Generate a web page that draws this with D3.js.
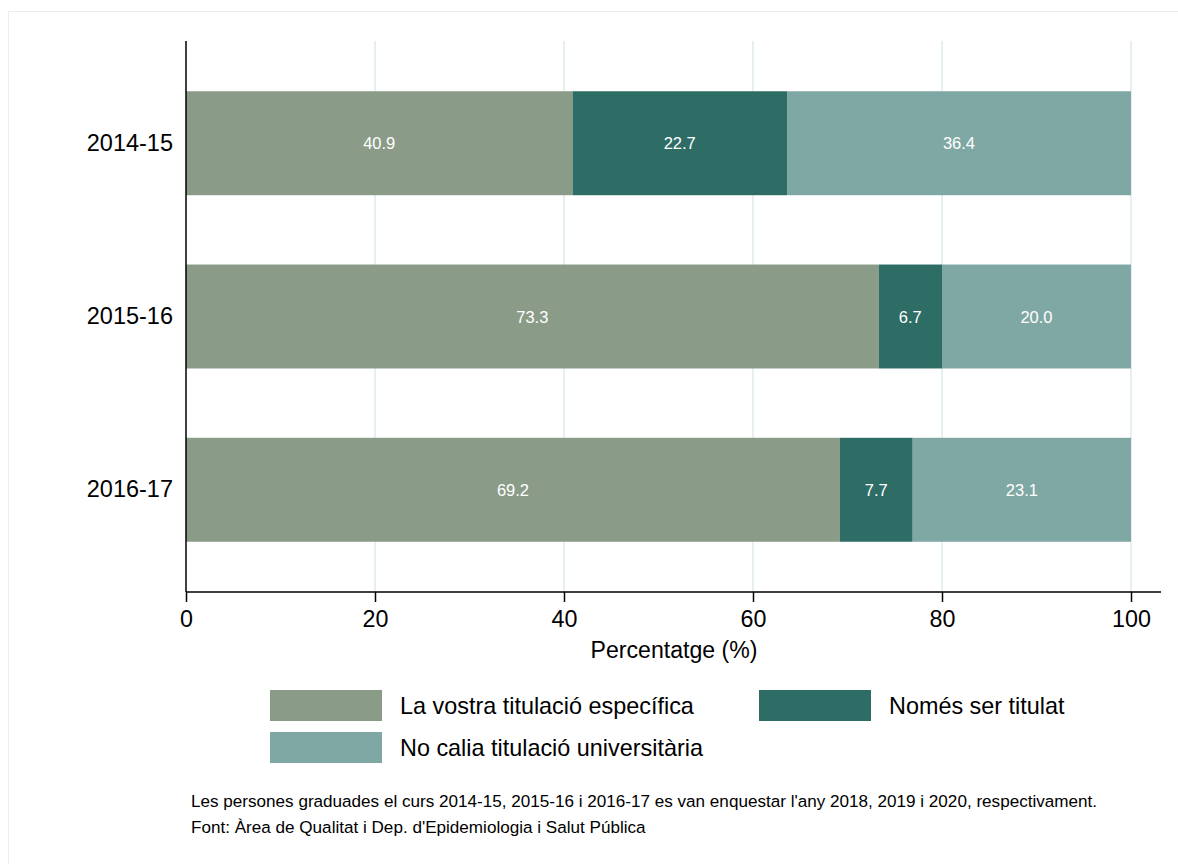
<!DOCTYPE html>
<html><head><meta charset="utf-8">
<script src="https://cdn.jsdelivr.net/npm/d3@7"></script>
<style>body{margin:0;background:#fff;}svg{display:block;font-family:"Liberation Sans",Arial,sans-serif;}</style>
</head><body><svg id="c" width="1178" height="864"></svg>
<script>
const categories = ["2014-15","2015-16","2016-17"];
const seriesNames = ["La vostra titulació específica","Només ser titulat","No calia titulació universitària"];
const especifica = [40.9, 73.3, 69.2];
const nomesTitulat = [22.7, 6.7, 7.7];
const noCalia = [36.4, 20.0, 23.1];
const xTicks = [0, 20, 40, 60, 80, 100];
const colors = ["#8a9c87", "#2e6d66", "#7fa8a4"];
const notes = ["Les persones graduades el curs 2014-15, 2015-16 i 2016-17 es van enquestar l'any 2018, 2019 i 2020, respectivament.",
               "Font: Àrea de Qualitat i Dep. d'Epidemiologia i Salut Pública"];

const svg = d3.select("#c");
svg.append("rect").attr("x",8.5).attr("y",11.5).attr("width",1200).attr("height",900)
  .attr("fill","none").attr("stroke","#ececec");

const x = d3.scaleLinear().domain([0,100]).range([186,1131]);
const y = d3.scaleBand().domain(categories).range([41,592]).paddingInner(0.4).paddingOuter(0.29);

// gridlines
svg.append("g").selectAll("line").data(xTicks.filter(d=>d>0)).join("line")
  .attr("x1",d=>x(d)).attr("x2",d=>x(d)).attr("y1",41).attr("y2",592)
  .attr("stroke","#e6eff1").attr("stroke-width",2);

const rows = categories.map((c,i)=>({cat:c, vals:[especifica[i], nomesTitulat[i], noCalia[i]]}));
const segs = [];
rows.forEach(r=>{ let acc=0; r.vals.forEach((v,k)=>{ segs.push({cat:r.cat,k,v,x0:acc,x1:acc+v}); acc+=v; }); });

svg.append("g").selectAll("rect").data(segs).join("rect")
  .attr("x",d=>x(d.x0)).attr("width",d=>x(d.x1)-x(d.x0))
  .attr("y",d=>y(d.cat)).attr("height",y.bandwidth())
  .attr("fill",d=>colors[d.k]);

svg.append("g").selectAll("text").data(segs).join("text")
  .attr("x",d=>(x(d.x0)+x(d.x1))/2).attr("y",d=>y(d.cat)+y.bandwidth()/2+6)
  .attr("text-anchor","middle").attr("fill","#fff").attr("font-size",16.5)
  .text(d=>d.v.toFixed(1));

// x axis
const xa = svg.append("g").attr("transform","translate(0,592)")
  .call(d3.axisBottom(x).tickValues(xTicks).tickSize(10).tickSizeOuter(0).tickPadding(8));
xa.select(".domain").attr("d","M186,0H1161").attr("stroke","#000").attr("stroke-width",1.5);
xa.selectAll(".tick line").attr("stroke","#000").attr("stroke-width",1.5);
xa.selectAll(".tick text").attr("font-size",23.3).attr("fill","#000").attr("font-family","Liberation Sans, Arial, sans-serif");

// y axis
const ya = svg.append("g").attr("transform","translate(186,0)")
  .call(d3.axisLeft(y).tickSize(0).tickPadding(13));
ya.select(".domain").attr("d","M0,41V592").attr("stroke","#000").attr("stroke-width",1.5);
ya.selectAll(".tick text").attr("font-size",23.5).attr("fill","#000").attr("font-family","Liberation Sans, Arial, sans-serif");

svg.append("text").attr("x",674).attr("y",658).attr("text-anchor","middle")
  .attr("font-size",23.1).attr("fill","#000").text("Percentatge (%)");

// legend
const legPos = [[270,690],[759,690],[270,732]];
seriesNames.forEach((n,k)=>{
  const [lx,ly] = legPos[k];
  svg.append("rect").attr("x",lx).attr("y",ly).attr("width",112).attr("height",31).attr("fill",colors[k]);
  svg.append("text").attr("x",lx+130).attr("y",ly+24).attr("font-size",23.4).attr("fill","#000").text(n);
});

notes.forEach((t,i)=>{
  svg.append("text").attr("x",191).attr("y",807+i*26).attr("font-size",17.1).attr("fill","#000").text(t);
});
</script></body></html>
